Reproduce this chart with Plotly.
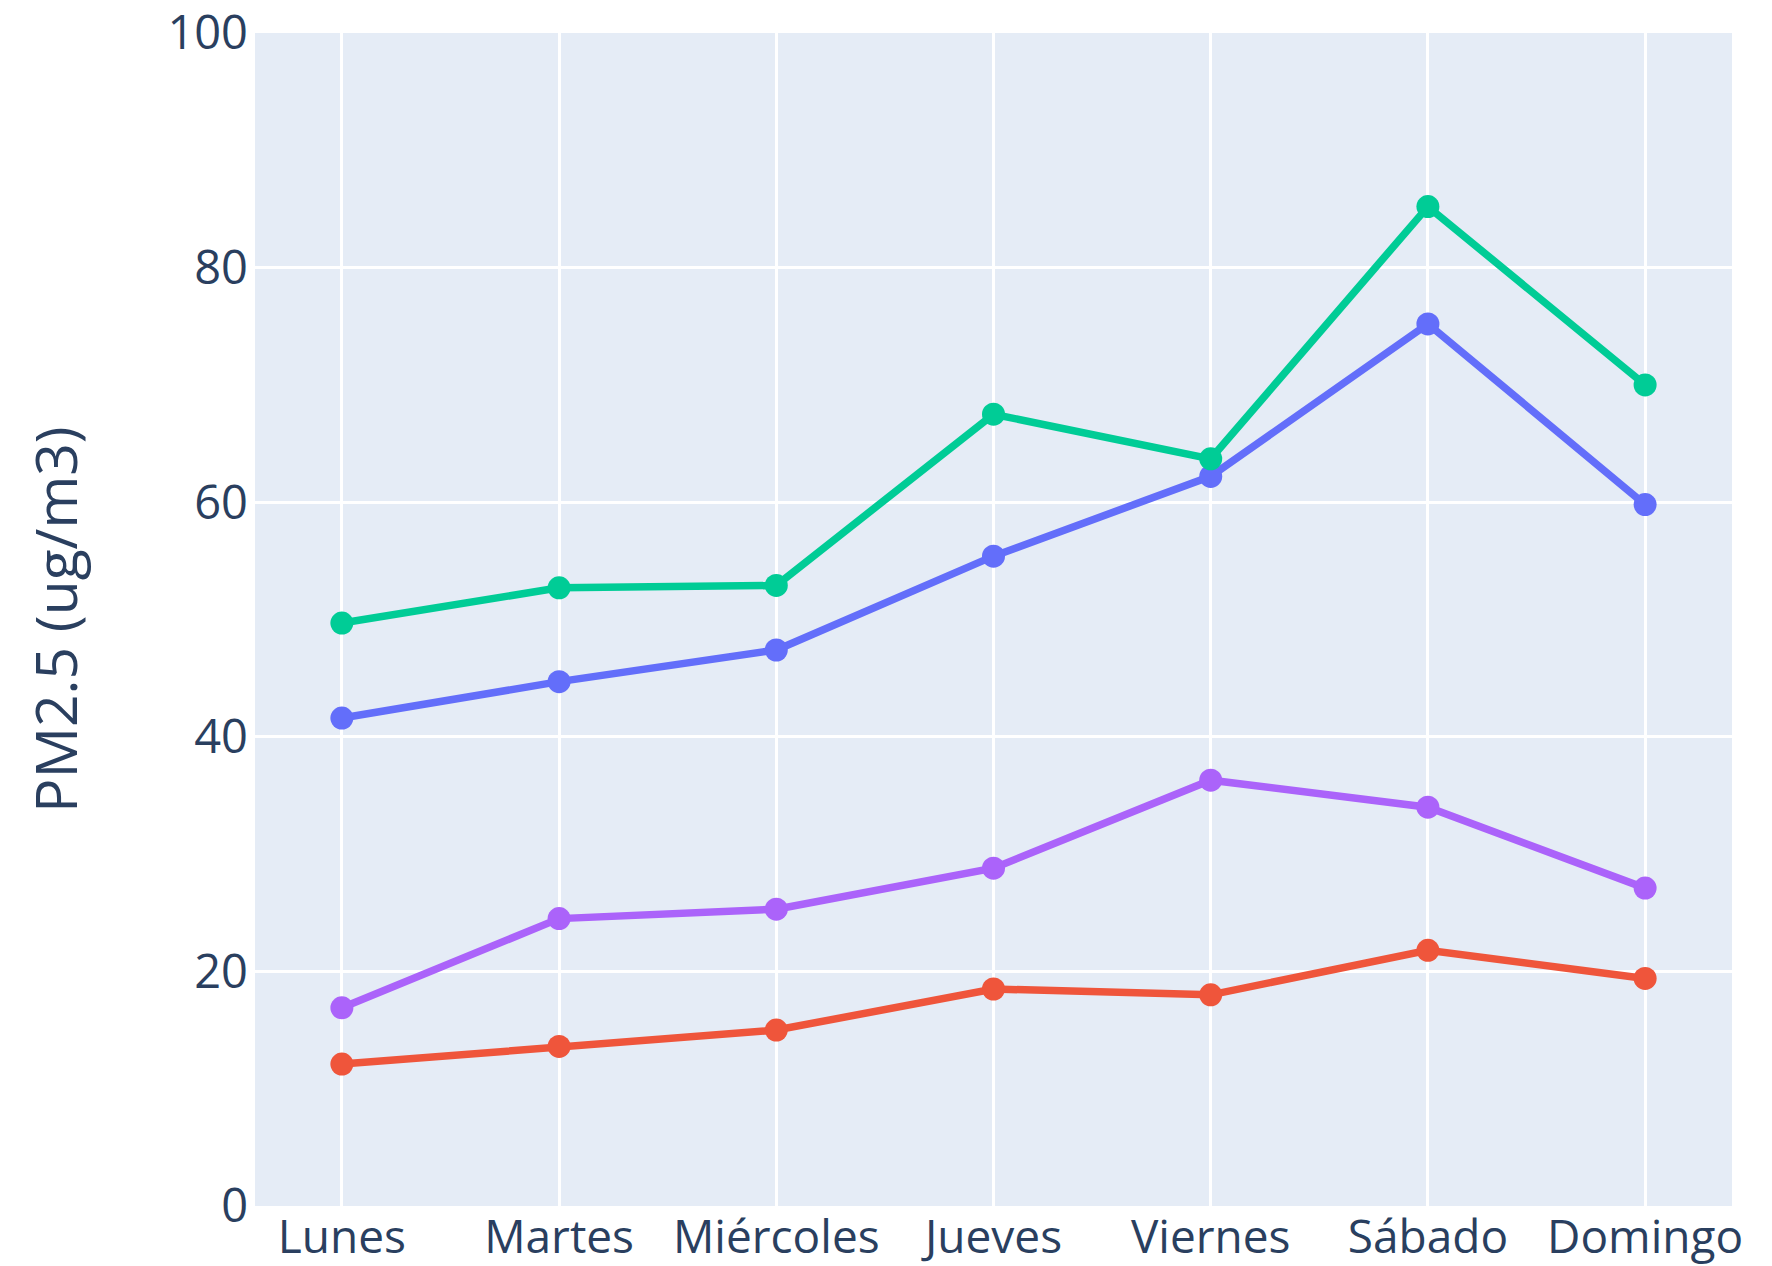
import plotly.graph_objects as go

dias = ["Lunes", "Martes", "Miércoles", "Jueves", "Viernes", "Sábado", "Domingo"]
serie_azul = [41.6, 44.7, 47.4, 55.4, 62.2, 75.2, 59.8]
serie_roja = [12.1, 13.6, 15.0, 18.5, 18.0, 21.8, 19.4]
serie_verde = [49.7, 52.7, 52.9, 67.5, 63.7, 85.2, 70.0]
serie_morada = [16.9, 24.5, 25.3, 28.8, 36.3, 34.0, 27.1]
y_ticks = [0, 20, 40, 60, 80, 100]

fig = go.Figure()
for name, vals, color in [
    ("Serie 1", serie_azul, "#636efa"),
    ("Serie 2", serie_roja, "#EF553B"),
    ("Serie 3", serie_verde, "#00cc96"),
    ("Serie 4", serie_morada, "#ab63fa"),
]:
    fig.add_trace(go.Scatter(
        x=dias, y=vals, name=name, mode="lines+markers",
        line=dict(color=color, width=7.5),
        marker=dict(color=color, size=23),
    ))

fig.update_layout(
    template="plotly",
    width=1764, height=1258,
    margin=dict(l=247, r=40, t=25, b=60),
    showlegend=False,
    font=dict(family="Open Sans", size=46, color="#2a3f5f"),
    plot_bgcolor="#e5ecf6",
    paper_bgcolor="white",
)
fig.update_xaxes(range=[-0.4, 6.4], gridcolor="white", gridwidth=3,
                 tickfont=dict(size=46), automargin=False, ticklabelstandoff=0,
                 ticklabeloverflow="allow")
fig.update_yaxes(range=[0, 100], tickvals=y_ticks, gridcolor="white", gridwidth=3,
                 tickfont=dict(size=47), zeroline=False, automargin="left",
                 ticklabelstandoff=6, ticklabeloverflow="allow",
                 title=dict(text="PM2.5 (ug/m3)", font=dict(size=57), standoff=71))

fig.write_html("out.html")
